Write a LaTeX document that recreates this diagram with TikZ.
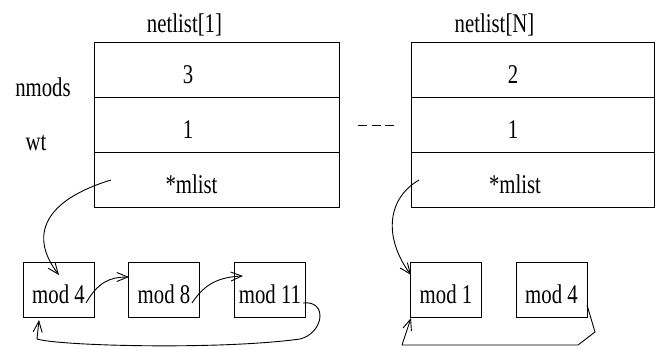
\documentclass[tikz,border=0pt]{standalone}
\usepackage{fontspec}
\setmainfont{Liberation Serif}
\usepackage{graphicx}
\usetikzlibrary{arrows.meta}
% narrow lettering used throughout the figure
\newcommand{\nrw}[1]{\scalebox{0.77}[1]{#1}}

\begin{document}
\begin{tikzpicture}[x=1pt,y=-1pt,line width=0.9pt,
  txt/.style={inner sep=0pt,anchor=base,font=\fontsize{27}{32}\selectfont},
  lcell/.style={draw,minimum width=245pt,minimum height=55pt,inner sep=0pt,anchor=north west},
  rcell/.style={draw,minimum width=243pt,minimum height=55pt,inner sep=0pt,anchor=north west},
  modbox/.style={draw,minimum width=71pt,minimum height=55pt,inner sep=0pt,
    text height=27pt,text depth=0pt,font=\fontsize{27}{32}\selectfont},
  ptr/.style={-{Straight Barb[length=11pt,width=9pt]}}]
\useasboundingbox (0,0) rectangle (655,349);

% first record
\node[lcell] (l1) at (94,42) {};
\node[lcell] (l2) at (94,97) {};
\node[lcell] (l3) at (94,152) {};
% last record
\node[rcell] (r1) at (411,42) {};
\node[rcell] (r2) at (411,97) {};
\node[rcell] (r3) at (411,152) {};

% titles and field names
\node[txt] (tl) at (184.5,32) {\nrw{netlist[1]}};
\node[txt] (tr) at (494.5,32) {\nrw{netlist[N]}};
\node[txt] (fn) at (43,96) {\nrw{nmods}};
\node[txt] (fw) at (36,150) {\nrw{wt}};

% field values
\node[txt] (v1) at (188,83) {\nrw{3}};
\node[txt] (v2) at (188,138) {\nrw{1}};
\node[txt] (v3) at (191.5,193) {\nrw{*mlist}};
\node[txt] (w1) at (513,83) {\nrw{2}};
\node[txt] (w2) at (513,138) {\nrw{1}};
\node[txt] (w3) at (515,193) {\nrw{*mlist}};

% ellipsis between the records
\coordinate (d0) at (358,125);
\coordinate (d1) at (394,125);
\draw[dash pattern=on 9pt off 4.5pt] (d0) -- (d1);

% module lists
\node[modbox] (a1) at (58.5,289.5) {\nrw{mod 4}};
\node[modbox] (a2) at (164,289.5) {\nrw{mod 8}};
\node[modbox] (a3) at (270,289.5) {\nrw{mod 11}};
\node[modbox] (b1) at (446,289.5) {\nrw{mod 1}};
\node[modbox] (b2) at (551.5,289.5) {\nrw{mod 4}};

% pointer start and end points
\coordinate (p1) at (111,180);
\coordinate (q1) at (59,275);
\coordinate (s12) at (86,303);
\coordinate (e12) at (129,277);
\coordinate (s23) at (192,303);
\coordinate (e23) at (243,276);
\coordinate (s3) at (303,303);
\coordinate (e3) at (39,320);
\coordinate (p2) at (419,180);
\coordinate (q2) at (411,275);
\coordinate (s4) at (587,305);
\coordinate (e4) at (411,318);

% first list
\draw[ptr] (p1) .. controls (45,200) and (28,235) .. (q1);
\draw[ptr] (s12) .. controls (98,282) and (110,277) .. (e12);
\draw[ptr] (s23) .. controls (205,283) and (220,277) .. (e23);
\draw[ptr] (s3) .. controls (328,300) and (324,333) .. (300,339)
  .. controls (220,350) and (60,346) .. (37,339) -- (e3);

% last list
\draw[ptr] (p2) .. controls (385,200) and (385,240) .. (q2);
\draw[ptr] (s4) -- (595,332) -- (578,345) -- (402,345) -- (e4);
\end{tikzpicture}
\end{document}
